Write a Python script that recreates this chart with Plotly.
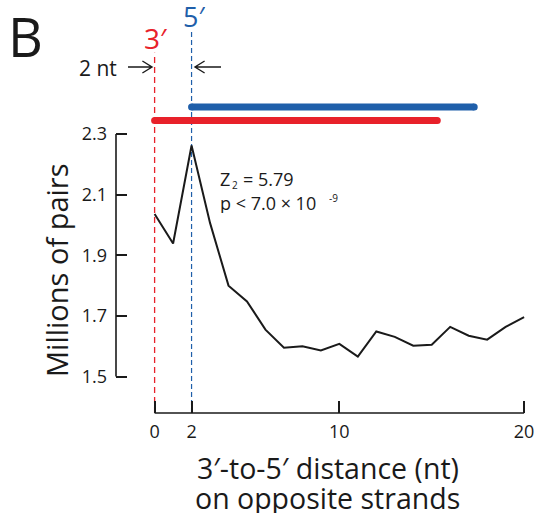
import plotly.graph_objects as go

# Data
distance = list(range(0, 21))
pairs_millions = [2.036, 1.939, 2.262, 2.007, 1.800, 1.748, 1.655, 1.595, 1.600, 1.586,
                  1.608, 1.566, 1.649, 1.631, 1.602, 1.605, 1.664, 1.635, 1.622, 1.664, 1.696]
x_ticks = [0, 2, 10, 20]
y_ticks = [1.5, 1.7, 1.9, 2.1, 2.3]
red_bar = [0, 15.3]
blue_bar = [2, 17.3]

W, H = 535, 523
ML, MB = 116, 110
PW, PH = W - ML, H - MB
RED = "#e8212a"
BLUE = "#1f5faa"
INK = "#1a1a1a"
FONT = "Open Sans"


def px(x):
    return (x - ML) / PW


def py(y):
    return (H - MB - y) / PH


fig = go.Figure()

fig.add_trace(go.Scatter(x=distance, y=pairs_millions, mode="lines",
                         line=dict(color=INK, width=2), cliponaxis=False,
                         showlegend=False, hoverinfo="skip"))
fig.add_trace(go.Scatter(x=red_bar, y=[2.345, 2.345], mode="lines+markers",
                         line=dict(color=RED, width=7), marker=dict(color=RED, size=7),
                         showlegend=False, hoverinfo="skip"))
fig.add_trace(go.Scatter(x=blue_bar, y=[2.389, 2.389], mode="lines+markers",
                         line=dict(color=BLUE, width=7), marker=dict(color=BLUE, size=7),
                         showlegend=False, hoverinfo="skip"))

shapes = [
    # axis lines
    dict(type="line", xref="paper", yref="y", x0=0, x1=0, y0=1.5, y1=2.3,
         line=dict(color=INK, width=1.6)),
    dict(type="line", xref="x", yref="paper", x0=0, x1=20, y0=0, y1=0,
         line=dict(color=INK, width=1.6)),
    # dashed reference lines
    dict(type="line", xref="x", yref="y", x0=0, x1=0, y0=1.38, y1=2.568,
         line=dict(color=RED, width=1.3, dash="6px,4px"), layer="below"),
    dict(type="line", xref="x", yref="y", x0=2, x1=2, y0=1.38, y1=2.637,
         line=dict(color=BLUE, width=1.2, dash="5px,3px"), layer="below"),
]


def arrow_path(x_tail, x_head, yy, size=6):
    d = 1 if x_head > x_tail else -1
    pts = (f"M{px(x_tail)},{py(yy)} L{px(x_head)},{py(yy)} "
           f"M{px(x_head - d*size*1.6)},{py(yy - size)} L{px(x_head)},{py(yy)} "
           f"L{px(x_head - d*size*1.6)},{py(yy + size)}")
    return dict(type="path", xref="paper", yref="paper", path=pts,
                line=dict(color=INK, width=1.4))


shapes.append(arrow_path(128, 152, 67))
shapes.append(arrow_path(221, 195, 67))

annotations = [
    dict(text="B", x=px(25), y=py(36), font=dict(size=54, color=INK), height=56),
    dict(text="3′", x=px(142), y=py(38), xanchor="left", font=dict(size=28, color=RED),
         height=28),
    dict(text="5′", x=px(181), y=py(17), xanchor="left", font=dict(size=27, color=BLUE),
         height=27),
    dict(text="2 nt", x=px(97.5), y=py(68), font=dict(size=21, color=INK)),
    dict(text="Z", x=px(218), y=py(179), xanchor="left",
         font=dict(size=18, color=INK), height=20),
    dict(text="2", x=px(230), y=py(185), xanchor="left",
         font=dict(size=10, color=INK), height=10),
    dict(text="= 5.79", x=px(241), y=py(179), xanchor="left",
         font=dict(size=18, color=INK), height=20),
    dict(text="p < 7.0 × 10", x=px(218), y=py(203), xanchor="left",
         font=dict(size=18, color=INK), height=20),
    dict(text="-9", x=px(327), y=py(198), xanchor="left",
         font=dict(size=10, color=INK), height=10),
    dict(text="Millions of pairs", x=px(56), y=py(270), textangle=-90,
         font=dict(size=29, color=INK)),
    dict(text="3′-to-5′ distance (nt)", x=px(327.5), y=py(467.5),
         font=dict(size=28.5, color=INK), height=30),
    dict(text="on opposite strands", x=px(327.5), y=py(497.5),
         font=dict(size=28.5, color=INK), height=30),
]
for a in annotations:
    a.setdefault("xref", "paper")
    a.setdefault("yref", "paper")
    a.setdefault("showarrow", False)
    a.setdefault("xanchor", "center")
    a.setdefault("yanchor", "middle")

fig.update_layout(
    width=W, height=H,
    margin=dict(l=ML, r=0, t=0, b=MB),
    paper_bgcolor="white", plot_bgcolor="white",
    font=dict(family=FONT, color=INK),
    shapes=shapes, annotations=annotations,
    xaxis=dict(range=[-2.09, 20.59], tickvals=x_ticks, ticks="inside", ticklen=12,
               tickwidth=1.6, tickcolor=INK, showgrid=False, zeroline=False,
               showline=False, tickfont=dict(family=FONT, size=18, color=INK),
               ticklabelstandoff=6),
    yaxis=dict(range=[1.380, 2.742], tickvals=y_ticks, ticktext=[f"{v:.1f}" for v in y_ticks],
               ticks="inside", ticklen=11, tickwidth=1.6, tickcolor=INK,
               showgrid=False, zeroline=False, showline=False,
               tickfont=dict(family=FONT, size=18, color=INK),
               ticklabelstandoff=8),
)

fig.write_html("out.html")
